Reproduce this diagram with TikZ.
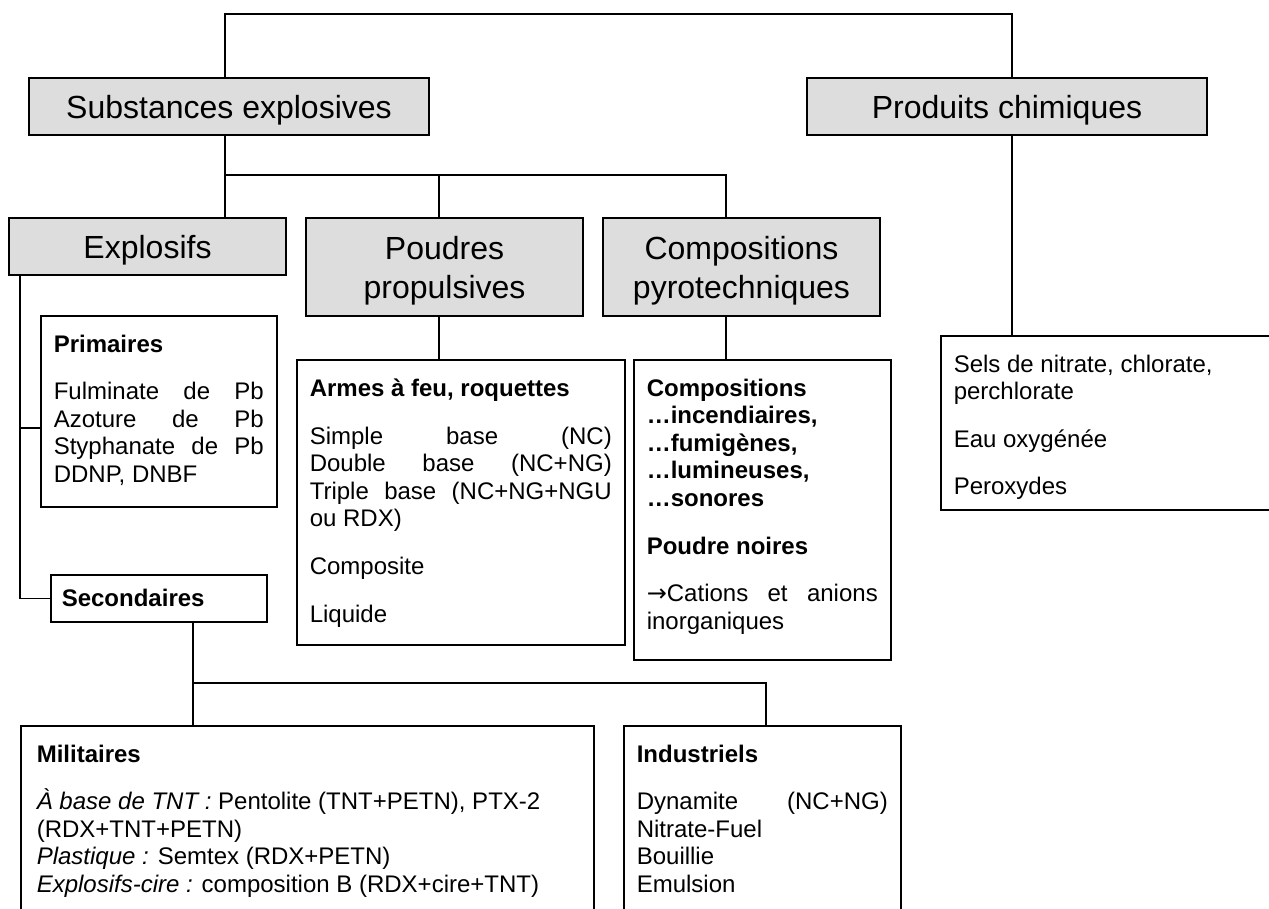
\documentclass[tikz,border=0pt]{standalone}
\usepackage{fontspec}
\setmainfont{Liberation Sans}
\newfontfamily\arrowfont{DejaVu Sans}
\definecolor{headgray}{HTML}{DDDDDD}
\newcommand\justline[1]{\makebox[\linewidth][s]{#1}\par}
\newcommand\pgap{\par\vspace{10pt}}
\begin{document}
\begin{tikzpicture}[x=0.5pt,y=-0.5pt,
  conn/.style={draw=black, line width=0.7pt},
  head/.style={draw=black, line width=0.8pt, fill=headgray, font=\fontsize{16}{19.5}\selectfont, align=center, inner sep=0pt, text depth=0pt},
  cbox/.style={draw=black, line width=0.8pt, fill=white, inner xsep=6.5pt, inner ysep=0pt, anchor=north west, font=\fontsize{12}{13.8}\selectfont}]
\useasboundingbox (0,0) rectangle (1269,909);
\begin{scope}
\clip (0,0) rectangle (1269,909);
% guide coordinates
\coordinate (vS) at (225,0);
\coordinate (vP) at (1012,0);
\coordinate (vPo) at (439,0);
\coordinate (vC) at (726,0);
\coordinate (vE) at (20,0);
\coordinate (vSec) at (193,0);
\coordinate (vInd) at (766,0);
\coordinate (topY) at (0,14);
\coordinate (j1Y) at (0,175);
\coordinate (j2Y) at (0,683);
\coordinate (bY) at (0,428);

% header boxes
\node[head, minimum width=200pt, minimum height=28.5pt] (subst) at (229,106.5) {Substances explosives};
\node[head, minimum width=200pt, minimum height=28.5pt] (prod) at (1007,106.5) {Produits chimiques};
\node[head, minimum width=138.5pt, minimum height=28.5pt] (explo) at (147.5,246.5) {Explosifs};
\node[head, minimum width=138.5pt, minimum height=49pt] (poud) at (444.5,267) {Poudres\\propulsives};
\node[head, minimum width=138.5pt, minimum height=49pt] (compo) at (741.5,267) {Compositions\\pyrotechniques};

% content boxes
\node[cbox] (prim) at (40,315) {\begin{minipage}[t][95.5pt][t]{105pt}\vspace*{9.5pt}%
\textbf{Primaires}\pgap
\justline{Fulminate de Pb}\justline{Azoture de Pb}\justline{Styphanate de Pb}DDNP, DNBF\end{minipage}};

\node[cbox] (armes) at (296,359) {\begin{minipage}[t][142.5pt][t]{151pt}\vspace*{9.5pt}%
\textbf{Armes à feu, roquettes}\pgap
\justline{Simple base (NC)}\justline{Double base (NC+NG)}\justline{Triple base (NC+NG+NGU}ou RDX)\pgap
Composite\pgap
Liquide\end{minipage}};

\node[cbox] (compc) at (633,359) {\begin{minipage}[t][150pt][t]{115.5pt}\vspace*{9.5pt}%
\textbf{Compositions}\par\textbf{…incendiaires,}\par\textbf{…fumigènes,}\par\textbf{…lumineuses,}\par\textbf{…sonores}\pgap
\textbf{Poudre noires}\pgap
\justline{{\arrowfont →}Cations et anions}inorganiques\end{minipage}};

\node[cbox] (sels) at (940,335) {\begin{minipage}[t][87pt][t]{157pt}\vspace*{9.5pt}%
Sels de nitrate, chlorate,\par perchlorate\pgap
Eau oxygénée\pgap
Peroxydes\end{minipage}};

\node[cbox, inner xsep=5.5pt] (sec) at (50,574) {\begin{minipage}[c][23.5pt][c]{97pt}\textbf{Secondaires}\end{minipage}};

\node[cbox, inner xsep=8pt] (mil) at (20,725) {\begin{minipage}[t][100pt][t]{270.5pt}\vspace*{9.5pt}%
\textbf{Militaires}\pgap
\textit{À base de TNT :} Pentolite (TNT+PETN), PTX-2\par
(RDX+TNT+PETN)\par
\textit{Plastique :} Semtex (RDX+PETN)\par
\textit{Explosifs-cire :} composition B (RDX+cire+TNT)\end{minipage}};

\node[cbox] (ind) at (623,725) {\begin{minipage}[t][100pt][t]{125.5pt}\vspace*{9.5pt}%
\textbf{Industriels}\pgap
\justline{Dynamite (NC+NG)}Nitrate-Fuel\par Bouillie\par Emulsion\end{minipage}};

% connectors
\draw[conn] (subst.north -| vS) -- (vS |- topY) -- (vP |- topY) -- (prod.north -| vP);
\draw[conn] (subst.south -| vS) -- (explo.north -| vS);
\draw[conn] (vS |- j1Y) -- (vC |- j1Y) -- (compo.north -| vC);
\draw[conn] (vPo |- j1Y) -- (poud.north -| vPo);
\draw[conn] (poud.south -| vPo) -- (armes.north -| vPo);
\draw[conn] (compo.south -| vC) -- (compc.north -| vC);
\draw[conn] (prod.south -| vP) -- (sels.north -| vP);
\draw[conn] (explo.south -| vE) -- (vE |- sec.west) -- (sec.west);
\draw[conn] (vE |- bY) -- (prim.west |- bY);
\draw[conn] (sec.south -| vSec) -- (vSec |- j2Y) -- (vInd |- j2Y) -- (ind.north -| vInd);
\draw[conn] (vSec |- j2Y) -- (mil.north -| vSec);
\end{scope}
\end{tikzpicture}
\end{document}
